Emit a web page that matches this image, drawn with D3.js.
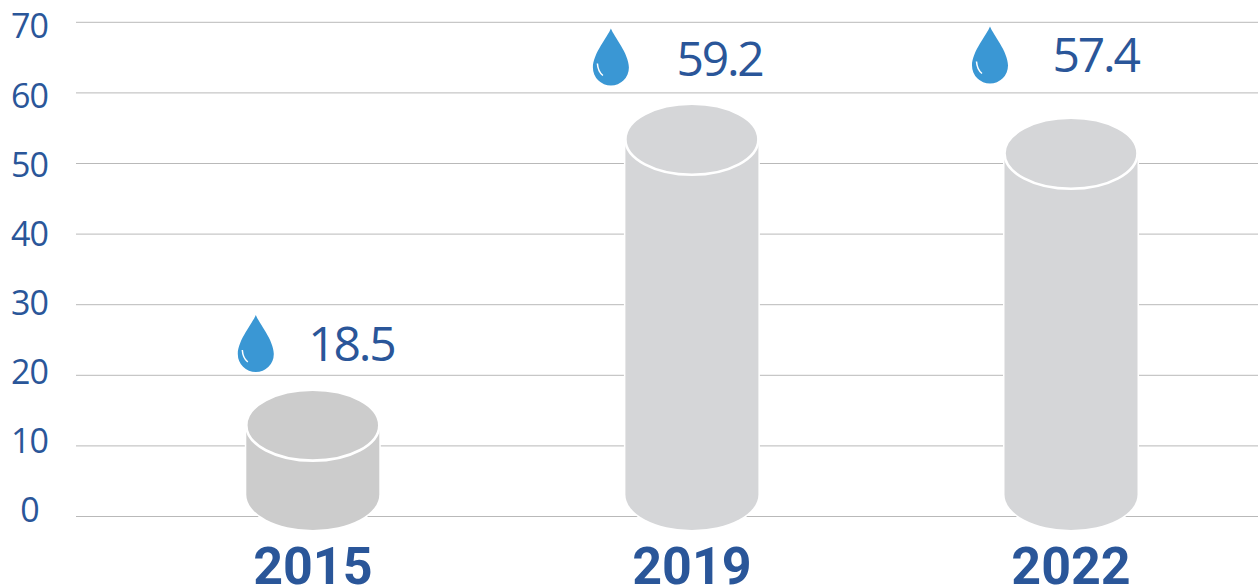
<!DOCTYPE html>
<html lang="en">

<head>
    <title>Cylinders</title>
    <meta charset="utf-8"/>
    <script src="https://d3js.org/d3.v7.min.js"></script>
    <style>
        html, body { margin: 0; padding: 0; background: #fff; overflow: hidden; }
        svg { display: block; }
        .grid line { stroke: #b9b9b9; stroke-width: 1; }
        .grid path, .ticks path, .ticks line { display: none; }
        .ticks text { font-family: "Open Sans"; font-size: 34px; fill: #2a5699; letter-spacing: -1px; }
        .value { font-family: "Open Sans"; font-size: 48px; fill: #2a5699; letter-spacing: -2.2px; }
        .year { font-family: Roboto; font-weight: 700; font-size: 52px; fill: #2a5699; text-anchor: middle; }
    </style>
</head>

<body>
<svg id="chart" width="1258" height="585"></svg>

<script>
    const years = ["2015", "2019", "2022"];
    const values = [18.5, 59.2, 57.4];
    // where the top of each cylinder really sits on the axis, it is not the printed value
    const cylinderTops = [17.9, 58.4, 56.4];
    const yTicks = [0, 10, 20, 30, 40, 50, 60, 70];

    // the drops and numbers were placed by hand in the original
    const dropNudge = [[-57, 315], [-81, 28.5], [-81, 26.5]];
    const valueNudge = [[-4.5, 361], [-15.5, 76], [-18.5, 72]];
    const bodyColors = ["#cccccc", "#d5d6d8", "#d5d6d8"];

    const rx = 66.5, ry = 35.5;

    const svg = d3.select("#chart");

    const x = d3.scalePoint().domain(years).range([312.8, 1071]);
    const y = d3.scaleLinear().domain([0, 70]).range([516, 21.8]);
    // labels are spaced slightly tighter than the grid lines
    const yLabels = d3.scaleLinear().domain([0, 70]).range([511, 27]);

    //grilla
    svg.append("g")
        .attr("class", "grid")
        .attr("transform", "translate(76,0)")
        .call(d3.axisLeft(y).tickValues(yTicks).tickSize(-1182).tickFormat(""));

    svg.append("g")
        .attr("class", "ticks")
        .attr("transform", "translate(29.5,0)")
        .call(d3.axisLeft(yLabels).tickValues(yTicks).tickSize(0).tickPadding(0))
        .selectAll("text")
        .attr("text-anchor", "middle");

    //cilindros
    const bars = svg.selectAll("g.bar")
        .data(years).enter()
        .append("g")
        .attr("class", "bar")
        .attr("transform", d => `translate(${x(d)},0)`);

    bars.append("path")
        .attr("d", (d, i) => {
            const top = y(cylinderTops[i]) + ry;
            const bottom = y(0) + 14 - ry;
            return `M${-rx},${top}V${bottom}A${rx},${ry} 0 0 0 ${rx},${bottom}V${top}Z`;
        })
        .attr("fill", (d, i) => bodyColors[i])
        .attr("stroke", "#fff")
        .attr("stroke-width", 3)
        .attr("paint-order", "stroke");

    bars.append("ellipse")
        .attr("cy", (d, i) => y(cylinderTops[i]) + ry)
        .attr("rx", rx)
        .attr("ry", ry)
        .attr("fill", (d, i) => bodyColors[i])
        .attr("stroke", "#fff")
        .attr("stroke-width", 2.6);

    //gotas
    const drops = svg.selectAll("g.drop")
        .data(years).enter()
        .append("g")
        .attr("class", "drop")
        .attr("transform", (d, i) => `translate(${x(d) + dropNudge[i][0]},${dropNudge[i][1]})`);

    drops.append("path")
        .attr("d", "M0,0C3,8 18,25 18,39A18,18 0 0 1 -18,39C-18,25 -3,8 0,0Z")
        .attr("fill", "#3a97d4");

    drops.append("path")
        .attr("d", "M-13.5,35Q-13,43 -8,47")
        .attr("fill", "none")
        .attr("stroke", "#fff")
        .attr("stroke-width", 1.5);

    //numeros
    svg.selectAll("text.value")
        .data(values).enter()
        .append("text")
        .attr("class", "value")
        .attr("x", (d, i) => x(years[i]) + valueNudge[i][0])
        .attr("y", (d, i) => valueNudge[i][1])
        .text(d => d.toFixed(1));

    svg.selectAll("text.year")
        .data(years).enter()
        .append("text")
        .attr("class", "year")
        .attr("x", d => x(d))
        .attr("y", 584)
        .text(d => d);
</script>
</body>

</html>
